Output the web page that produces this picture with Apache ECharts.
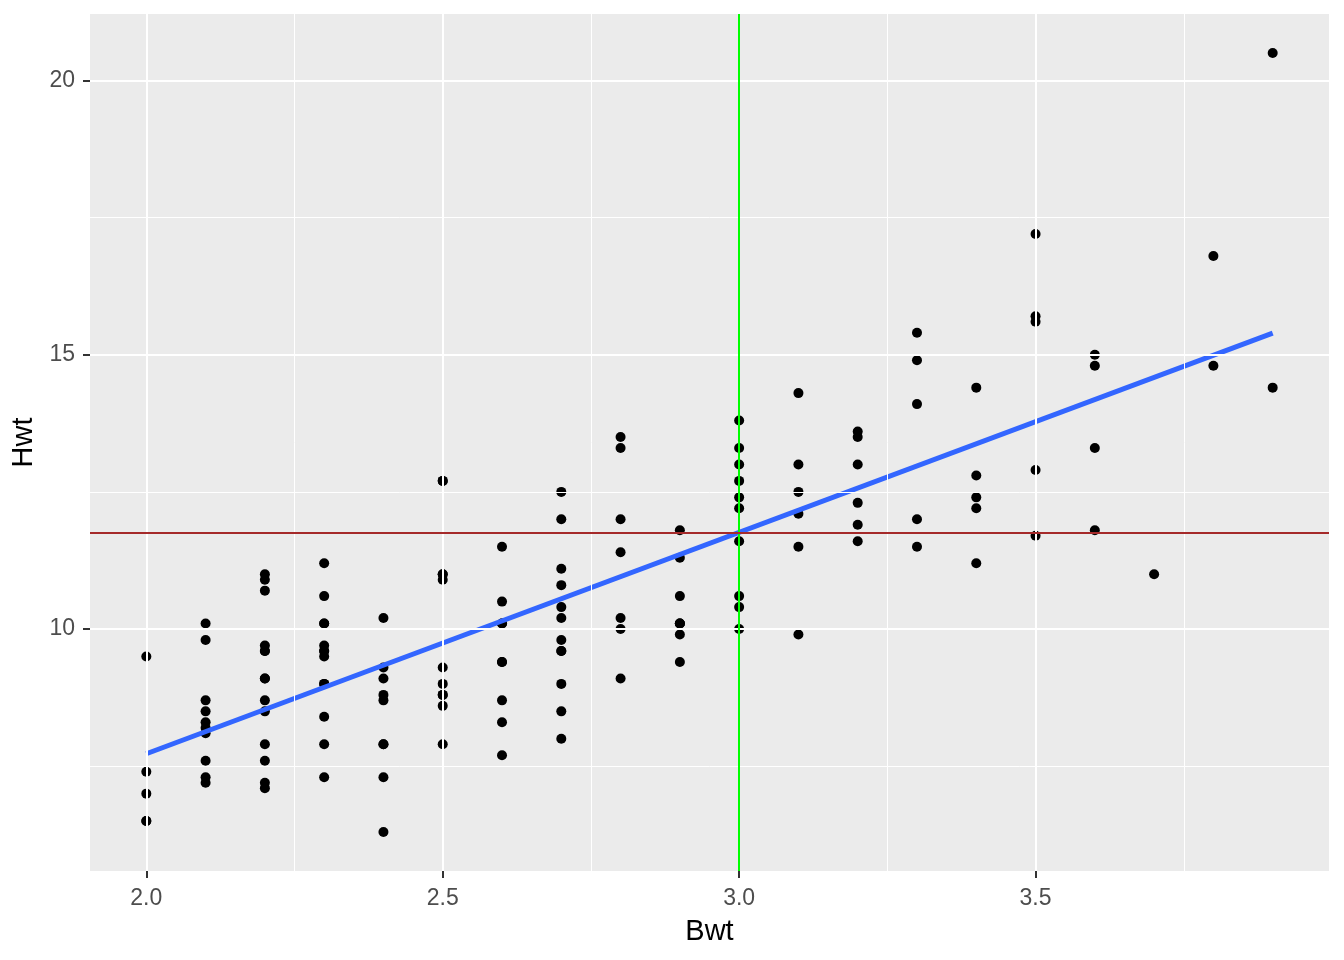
<!DOCTYPE html>
<html>
<head>
<meta charset="utf-8">
<title>Hwt vs Bwt</title>
<script src="https://cdn.jsdelivr.net/npm/echarts@6/dist/echarts.min.js"></script>
<style>
html, body { margin: 0; padding: 0; background: #fff; }
#chart { width: 1344px; height: 960px; }
</style>
</head>
<body>
<div id="chart"></div>
<script>
// body weight levels (kg) and the heart weights (g) seen at each level
var bwtLevels = [2.0, 2.1, 2.2, 2.3, 2.4, 2.5, 2.6, 2.7, 2.8, 2.9,
                 3.0, 3.1, 3.2, 3.3, 3.4, 3.5, 3.6, 3.7, 3.8, 3.9];
var hwtByBwt = [
  [7.0, 7.4, 9.5, 6.5, 6.5],
  [7.2, 7.3, 7.6, 8.1, 8.2, 8.3, 8.5, 8.7, 9.8, 10.1],
  [7.1, 8.7, 9.1, 9.7, 10.9, 11.0, 7.2, 7.6, 7.9, 8.5, 9.1, 9.6, 9.6, 10.7],
  [7.3, 7.9, 8.4, 9.0, 9.0, 9.5, 9.6, 9.7, 10.1, 10.1, 10.6, 11.2, 9.6],
  [6.3, 8.7, 8.8, 10.2, 7.3, 7.9, 7.9, 9.1, 9.3],
  [9.0, 10.9, 11.0, 7.9, 8.6, 8.8, 8.8, 9.3, 11.0, 12.7, 12.7],
  [8.7, 10.1, 10.1, 7.7, 8.3, 9.4, 9.4, 10.5, 11.5],
  [8.5, 10.2, 10.8, 8.0, 9.0, 9.6, 9.6, 9.8, 10.4, 11.1, 12.0, 12.5],
  [9.1, 10.0, 10.2, 11.4, 12.0, 13.3, 13.5],
  [9.9, 10.1, 10.1, 9.4, 10.1, 10.6, 11.3, 11.8],
  [10.6, 10.0, 10.4, 11.6, 12.2, 12.4, 12.7, 13.0, 13.3, 13.8],
  [9.9, 11.5, 12.1, 12.5, 13.0, 14.3],
  [11.6, 11.9, 12.3, 13.0, 13.5, 13.6],
  [11.5, 12.0, 14.1, 14.9, 15.4],
  [11.2, 12.2, 12.4, 12.8, 14.4],
  [11.7, 12.9, 15.6, 15.7, 17.2],
  [11.8, 13.3, 14.8, 15.0],
  [11.0],
  [14.8, 16.8],
  [14.4, 20.5]
];

var xTicks = [2.0, 2.5, 3.0, 3.5];
var xMinor = [2.25, 2.75, 3.25, 3.75];
var yTicks = [10, 15, 20];
var yMinor = [7.5, 12.5, 17.5];
var vlineAt = 3.0;

var FONT = '"Liberation Sans", Arial, sans-serif';

// flatten into [bwt, hwt] pairs
var points = [];
bwtLevels.forEach(function (b, i) {
  hwtByBwt[i].forEach(function (h) { points.push([b, h]); });
});

// least squares fit, as geom_smooth(method = "lm")
var n = points.length, sx = 0, sy = 0, sxx = 0, sxy = 0;
points.forEach(function (p) {
  sx += p[0]; sy += p[1]; sxx += p[0] * p[0]; sxy += p[0] * p[1];
});
var slope = (n * sxy - sx * sy) / (n * sxx - sx * sx);
var intercept = (sy - slope * sx) / n;
var fit = function (x) { return intercept + slope * x; };
var xLo = bwtLevels[0], xHi = bwtLevels[bwtLevels.length - 1];
var fitLine = [[xLo, fit(xLo)], [xHi, fit(xHi)]];
var hlineAt = fit(vlineAt);

// ggplot-style 5% padding
var allH = points.map(function (p) { return p[1]; });
var yLo = Math.min.apply(null, allH), yHi = Math.max.apply(null, allH);
var xPad = (xHi - xLo) * 0.05, yPad = (yHi - yLo) * 0.05;

function gridLines(xs, ys, width) {
  return {
    type: 'line', data: [], z: 1, silent: true,
    markLine: {
      silent: true, symbol: ['none', 'none'], label: { show: false },
      animation: false,
      lineStyle: { color: '#ffffff', width: width, type: 'solid' },
      emphasis: { disabled: true },
      data: xs.map(function (v) { return { xAxis: v }; })
        .concat(ys.map(function (v) { return { yAxis: v }; }))
    }
  };
}

var chart = echarts.init(document.getElementById('chart'));
chart.setOption({
  animation: false,
  backgroundColor: '#ffffff',
  grid: {
    left: 90, right: 15, top: 14, bottom: 89,
    show: true, backgroundColor: '#EBEBEB', borderWidth: 0
  },
  xAxis: {
    type: 'value', min: xLo - xPad, max: xHi + xPad,
    name: 'Bwt', nameLocation: 'middle', nameGap: 46,
    nameTextStyle: { color: '#000', fontSize: 29, fontFamily: FONT },
    axisLine: { show: false },
    axisTick: { show: true, length: 7, customValues: xTicks,
                lineStyle: { color: '#333333', width: 2 } },
    axisLabel: { customValues: xTicks, color: '#4D4D4D', fontSize: 23,
                 fontFamily: FONT, margin: 16,
                 formatter: function (v) { return v.toFixed(1); } },
    splitLine: { show: false }
  },
  yAxis: {
    type: 'value', min: yLo - yPad, max: yHi + yPad,
    name: 'Hwt', nameLocation: 'middle', nameGap: 46, nameRotate: 90,
    nameTextStyle: { color: '#000', fontSize: 29, fontFamily: FONT },
    axisLine: { show: false },
    axisTick: { show: true, length: 7, customValues: yTicks,
                lineStyle: { color: '#333333', width: 2 } },
    axisLabel: { customValues: yTicks, color: '#4D4D4D', fontSize: 23,
                 fontFamily: FONT, margin: 15,
                 formatter: function (v) { return String(v); } },
    splitLine: { show: false }
  },
  series: [
    gridLines(xMinor, yMinor, 1),
    gridLines(xTicks, yTicks, 2),
    {
      type: 'scatter', data: points, z: 2, symbol: 'circle', symbolSize: 10,
      itemStyle: { color: '#000000', opacity: 1 }, silent: true
    },
    {
      type: 'line', data: fitLine, z: 3, showSymbol: false, silent: true,
      lineStyle: { color: '#3366FF', width: 5 }
    },
    {
      type: 'line', data: [], z: 4, silent: true,
      markLine: {
        silent: true, symbol: ['none', 'none'], label: { show: false },
        animation: false,
        data: [
          { xAxis: vlineAt, lineStyle: { color: '#00FF00', width: 2, type: 'solid' } },
          { yAxis: hlineAt, lineStyle: { color: '#A52A2A', width: 2, type: 'solid' } }
        ]
      }
    }
  ]
});
</script>
</body>
</html>
